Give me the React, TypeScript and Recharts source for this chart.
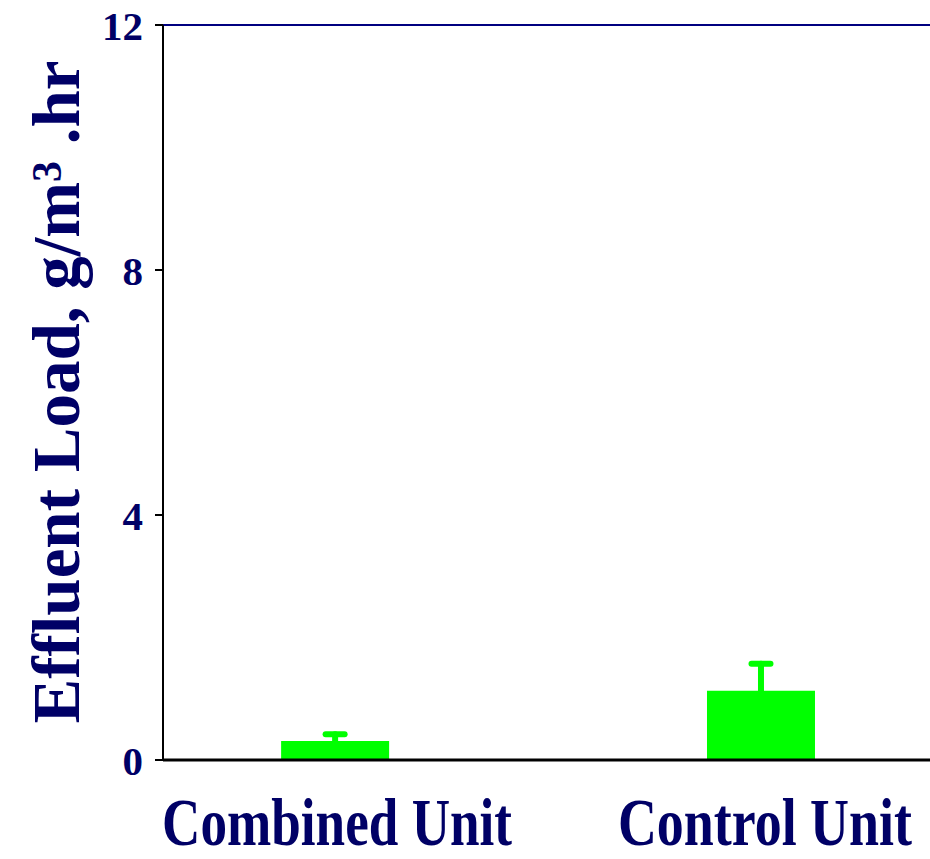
import React from "react";
import {
  BarChart,
  Bar,
  XAxis,
  YAxis,
  ErrorBar,
  ReferenceLine,
} from "recharts";

const units = ["Combined Unit", "Control Unit"];
const positions = [0, 1];
const loads = [0.31, 1.13];
const errors = [0.11, 0.44];
const yTicks = [0, 4, 8, 12];

const NAVY = "#000066";
const FONT = "'Liberation Serif', 'Times New Roman', serif";

const data = units.map((name, i) => ({
  name,
  x: positions[i],
  load: loads[i],
  err: errors[i],
}));

// the category labels in the original are squeezed horizontally
const labelWidths: { [k: string]: number } = {
  "Combined Unit": 350,
  "Control Unit": 294,
};
const labelShift: { [k: string]: number } = {
  "Combined Unit": 2,
  "Control Unit": 4,
};

const UnitTick = (props: any) => {
  const { x, y, payload } = props;
  const name = units[payload.value] ?? "";
  return (
    <text
      x={x}
      y={y}
      dx={labelShift[name]}
      dy={77}
      textAnchor="middle"
      fontFamily={FONT}
      fontWeight="bold"
      fontSize={68}
      fill={NAVY}
      textLength={labelWidths[name]}
      lengthAdjust="spacingAndGlyphs"
    >
      {name}
    </text>
  );
};

const YTitle = (props: any) => {
  const vb = props.viewBox || { x: 0, y: 25, height: 735 };
  const bx = vb.x + 79;
  const by = 392;
  return (
    <text
      x={bx}
      y={by}
      transform={`rotate(-90, ${bx}, ${by})`}
      textAnchor="middle"
      fontFamily={FONT}
      fontWeight="bold"
      fontSize={67}
      fill={NAVY}
    >
      <tspan>Effluent Load, g/m</tspan>
      <tspan fontSize={42} dy={-18}>
        3
      </tspan>
      <tspan dy={18}> .hr</tspan>
    </text>
  );
};

export default function App() {
  return (
    <div style={{ position: "absolute", left: 0, top: 0, background: "#fff" }}>
      <BarChart
        width={930}
        height={859}
        data={data}
        margin={{ top: 25, right: 0, bottom: 0, left: 0 }}
      >
        <XAxis
          type="number"
          dataKey="x"
          domain={[-0.404, 1.397]}
          ticks={positions}
          allowDataOverflow
          tickLine={false}
          axisLine={{ stroke: "#000", strokeWidth: 3 }}
          tick={<UnitTick />}
          height={99}
        />
        <YAxis
          domain={[0, 12]}
          ticks={yTicks}
          width={163}
          tickSize={8}
          tickMargin={12}
          axisLine={{ stroke: "#000", strokeWidth: 2 }}
          tickLine={{ stroke: "#000", strokeWidth: 2 }}
          tick={{
            fill: NAVY,
            fontFamily: FONT,
            fontWeight: "bold",
            fontSize: 41,
          }}
          label={<YTitle />}
        />
        <ReferenceLine y={12} stroke="#000080" strokeWidth={2} />
        <Bar
          dataKey="load"
          fill="#00ff00"
          barSize={108}
          isAnimationActive={false}
        >
          <ErrorBar
            dataKey="err"
            direction="y"
            width={9.5}
            stroke="#00ff00"
            strokeWidth={6}
            strokeLinecap="round"
          />
        </Bar>
      </BarChart>
    </div>
  );
}
